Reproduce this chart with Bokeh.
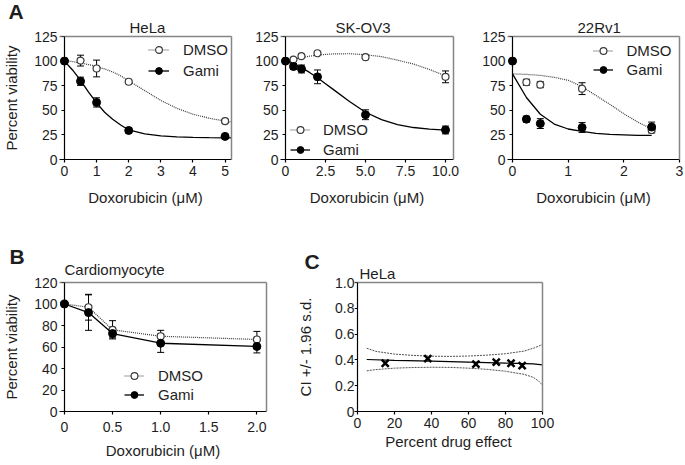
import math
from bokeh.plotting import figure
from bokeh.models import (ColumnDataSource, Whisker, TeeHead, Legend, LegendItem,
                          Title, FixedTicker, LinearAxis, Range1d)
from bokeh.layouts import column, row
from bokeh.embed import file_html
from bokeh.resources import INLINE

# ---------------- data ----------------
# Panel A - HeLa
hela_x = [0, 0.5, 1, 2, 5]
hela_dmso = [100, 100.5, 92.5, 79, 39]
hela_dmso_err = [0, 5.5, 8.5, 1.5, 1.5]
hela_gami = [100, 79.5, 58, 29.5, 23.5]
hela_gami_err = [0, 4.2, 4.7, 2.5, 0]
hela_fit_x = [0, 0.25, 0.5, 0.75, 1, 1.25, 1.5, 1.75, 2, 2.5, 3, 3.5, 4, 4.5, 5, 5.2]
hela_fit_dmso = [100.5, 99.5, 98, 96.5, 94.5, 92, 89, 85, 80, 70, 60, 52, 46, 42, 39, 38]
hela_fit_gami = [100, 91, 80.5, 68.5, 57.5, 48, 41, 35, 30, 26, 24, 23, 22.5, 22.2, 22, 22]

# Panel A - SK-OV3
sk_x = [0, 0.5, 1, 2, 5, 10]
sk_dmso = [100, 101.5, 105, 108, 104, 84]
sk_dmso_err = [0, 1, 2, 1, 1, 6]
sk_gami = [100, 94.5, 92, 84, 45.5, 30]
sk_gami_err = [0, 3, 4, 7, 5, 4]
sk_fit_x = [0, 0.5, 1, 1.5, 2, 2.5, 3, 4, 5, 6, 7, 8, 9, 10]
sk_fit_dmso = [100, 102, 103.5, 105, 106, 106.8, 107.3, 107.5, 106.5, 104.5, 101, 97, 91.5, 85]
sk_fit_gami = [100, 97, 93.5, 88.5, 83, 77, 71, 59, 48, 40.5, 35.5, 32.5, 30.8, 29.8]

# Panel A - 22Rv1
rv_x = [0, 0.25, 0.5, 1.25, 2.5]
rv_dmso = [100, 78.5, 76, 72, 30]
rv_dmso_err = [0, 3, 3, 6, 3]
rv_gami = [100, 41, 36.5, 32.5, 33]
rv_gami_err = [0, 3, 5, 5, 5]
rv_fit_x = [0, 0.25, 0.5, 0.75, 1, 1.25, 1.5, 1.75, 2, 2.25, 2.5]
rv_fit_dmso = [87, 86.5, 85.5, 83.5, 80.5, 74, 65, 56, 46.5, 38, 31]
rv_fit_gami = [87, 63, 46, 36, 31, 28.5, 26.5, 25.5, 25, 24.5, 24.5]

# Panel B - Cardiomyocyte
cm_x = [0, 0.25, 0.5, 1.0, 2.0]
cm_dmso = [100, 97, 76, 70, 67]
cm_dmso_err = [0, 12, 8.5, 5.5, 7.5]
cm_gami = [100, 92, 72.5, 63.5, 60.5]
cm_gami_err = [0, 16.5, 4, 8.5, 6]

# Panel C - HeLa combination index
ci_x = [15, 38, 64, 75, 83, 89]
ci_y = [0.374, 0.41, 0.367, 0.383, 0.374, 0.355]
ci_fit_x = [5, 20, 40, 60, 80, 95, 100]
ci_fit_y = [0.403, 0.397, 0.39, 0.383, 0.375, 0.369, 0.362]
ci_band_x = [5, 10, 20, 30, 40, 50, 60, 70, 80, 90, 95, 98, 100]
ci_upper = [0.49, 0.466, 0.445, 0.435, 0.429, 0.427, 0.43, 0.437, 0.448, 0.468, 0.49, 0.507, 0.52]
ci_lower = [0.315, 0.325, 0.336, 0.341, 0.343, 0.342, 0.336, 0.327, 0.312, 0.288, 0.265, 0.235, 0.205]

# tick labels
hela_xticks = [0, 1, 2, 3, 4, 5]
hela_xlabels = ["0", "1", "2", "3", "4", "5"]
sk_xticks = [0, 2.5, 5, 7.5, 10]
sk_xlabels = ["0", "2.5", "5.0", "7.5", "10.0"]
rv_xticks = [0, 1, 2, 3]
rv_xlabels = ["0", "1", "2", "3"]
a_yticks = [0, 25, 50, 75, 100, 125]
a_ylabels = ["0", "25", "50", "75", "100", "125"]
cm_xticks = [0, 0.5, 1.0, 1.5, 2.0]
cm_xlabels = ["0", "0.5", "1.0", "1.5", "2.0"]
cm_yticks = [0, 20, 40, 60, 80, 100, 120]
cm_ylabels = ["0", "20", "40", "60", "80", "100", "120"]
ci_xticks = [0, 20, 40, 60, 80, 100]
ci_xlabels = ["0", "20", "40", "60", "80", "100"]
ci_yticks = [0, 0.2, 0.4, 0.6, 0.8, 1.0]
ci_ylabels = ["0", "0.2", "0.4", "0.6", "0.8", "1.0"]

# ---------------- styling ----------------
FONT = "Liberation Sans"
TXT = "#1e1e1e"
FRAME_GRAY = "#858585"
DMSO_COL = "#3a3a3a"


def style_axis(ax, standoff, line=True, tick_out=3):
    ax.axis_line_color = "black" if line else None
    ax.axis_line_width = 1.2
    ax.major_tick_line_color = "black" if line else None
    ax.major_tick_line_width = 1.2
    ax.major_tick_in = 0
    ax.major_tick_out = tick_out
    ax.minor_tick_line_color = None
    ax.minor_tick_in = 0
    ax.minor_tick_out = 0
    ax.major_label_standoff = standoff
    ax.major_label_text_font = FONT
    ax.major_label_text_font_size = "14px"
    ax.major_label_text_color = TXT
    ax.axis_label_text_font = FONT
    ax.axis_label_text_font_size = "15px"
    ax.axis_label_text_font_style = "normal"
    ax.axis_label_text_color = TXT


def overrides(ticks, labels):
    return {float(t): l for t, l in zip(ticks, labels)}


def make_panel(x_end, y_end, xticks, xlabels, yticks, ylabels, w, h, bl, br, bt, bb,
               pad, xlab, xtick_standoff, xlab_standoff, ylab, ylab_standoff,
               letter, letter_offset, letter_standoff,
               name, name_offset, name_standoff):
    fw = w - bl - br
    x_start = -pad * x_end / (fw - pad)
    p = figure(width=w, height=h,
               min_border_left=bl, min_border_right=br, min_border_top=bt, min_border_bottom=bb,
               x_range=Range1d(x_start, x_end), y_range=Range1d(0, y_end),
               x_axis_location=None, y_axis_location=None,
               output_backend="svg", toolbar_location=None, title=letter)
    p.outline_line_color = None
    p.background_fill_color = "white"
    p.border_fill_color = "white"
    for g in p.grid:
        g.visible = False
    # panel letter (outermost title)
    p.title.text_font = FONT
    p.title.text_font_size = "21px"
    p.title.text_font_style = "bold"
    p.title.text_color = TXT
    p.title.align = "left"
    p.title.offset = letter_offset
    p.title.standoff = letter_standoff

    xa = LinearAxis(ticker=FixedTicker(ticks=xticks),
                    major_label_overrides=overrides(xticks, xlabels))
    style_axis(xa, xtick_standoff)
    xa.axis_label = xlab
    xa.axis_label_standoff = xlab_standoff
    p.add_layout(xa, "below")

    # black y-axis line and ticks at x = 0 (a little inside the frame)
    yline = LinearAxis(ticker=FixedTicker(ticks=yticks), fixed_location=0)
    style_axis(yline, 0)
    yline.major_label_text_color = None
    yline.major_label_text_alpha = 0
    p.add_layout(yline, "left")
    # tick labels and axis title at the frame edge
    ylab_axis = LinearAxis(ticker=FixedTicker(ticks=yticks),
                           major_label_overrides=overrides(yticks, ylabels))
    style_axis(ylab_axis, pad - 3, line=False, tick_out=0)
    if ylab:
        ylab_axis.axis_label = ylab
        ylab_axis.axis_label_standoff = ylab_standoff
    p.add_layout(ylab_axis, "left")

    for side in ("above", "right"):
        ax = LinearAxis(ticker=FixedTicker(ticks=[]), axis_line_color=FRAME_GRAY,
                        axis_line_width=1.5, major_tick_in=0, major_tick_out=0,
                        minor_tick_in=0, minor_tick_out=0, major_label_standoff=0,
                        major_label_text_color=None)
        p.add_layout(ax, side)

    # panel name
    p.add_layout(Title(text=name, align="left", offset=name_offset, standoff=name_standoff,
                       text_font=FONT, text_font_size="15px", text_font_style="normal",
                       text_color=TXT), "above")
    return p


def add_series(p, x, y, err, fx, fy, dmso):
    lo = [a - b for a, b in zip(y, err)]
    hi = [a + b for a, b in zip(y, err)]
    src = ColumnDataSource(dict(x=x, lo=lo, hi=hi))
    w = Whisker(source=src, base="x", lower="lo", upper="hi", dimension="height",
                line_color="black", line_width=1, level="underlay",
                upper_head=TeeHead(size=7, line_color="black", line_width=1),
                lower_head=TeeHead(size=7, line_color="black", line_width=1))
    p.add_layout(w)
    if dmso:
        ln = p.line(fx, fy, line_color=DMSO_COL, line_width=1.2, line_dash="1 1")
        pts = p.scatter(x, y, marker="circle", size=7, fill_color="white",
                        line_color=DMSO_COL, line_width=1.2)
    else:
        ln = p.line(fx, fy, line_color="black", line_width=1.3)
        pts = p.scatter(x, y, marker="circle", size=8, fill_color="black", line_color="black")
    return [ln, pts]


def add_legend(p, dmso_r, gami_r, loc, spacing, glyph_w, standoff):
    lg = Legend(items=[LegendItem(label="DMSO", renderers=dmso_r),
                       LegendItem(label="Gami", renderers=gami_r)],
                location=loc, orientation="vertical", padding=0, margin=0,
                spacing=spacing, glyph_width=glyph_w, glyph_height=17, label_height=17,
                label_standoff=standoff, label_text_font=FONT, label_text_font_size="15px",
                label_text_color=TXT, border_line_color=None, background_fill_alpha=0)
    p.add_layout(lg)


DOX = "Doxorubicin (\u03bcM)"

# ---- A: HeLa
f1 = make_panel(5.2, 125, hela_xticks, hela_xlabels, a_yticks, a_ylabels,
                240, 231, 58, 9, 36, 72, 5, DOX, 3, 10, "Percent viability", 11,
                "A", -51, -15, "HeLa", 70, 2)
d = add_series(f1, hela_x, hela_dmso, hela_dmso_err, hela_fit_x, hela_fit_dmso, True)
g = add_series(f1, hela_x, hela_gami, hela_gami_err, hela_fit_x, hela_fit_gami, False)
add_legend(f1, d, g, (89, 80.5), 4, 21, 14)

# ---- A: SK-OV3
f2 = make_panel(10.5, 125, sk_xticks, sk_xlabels, a_yticks, a_ylabels,
                220, 231, 40, 7, 36, 72, 5, DOX, 3, 10, None, 0,
                "", 0, 0, "SK-OV3", 55, 2)
d = add_series(f2, sk_x, sk_dmso, sk_dmso_err, sk_fit_x, sk_fit_dmso, True)
g = add_series(f2, sk_x, sk_gami, sk_gami_err, sk_fit_x, sk_fit_gami, False)
add_legend(f2, d, g, (10, 1), 3, 20, 13)

# ---- A: 22Rv1
f3 = make_panel(3, 125, rv_xticks, rv_xlabels, a_yticks, a_ylabels,
                225, 231, 47, 6, 36, 72, 5, DOX, 3, 10, None, 0,
                "", 0, 0, "22Rv1", 70, 2)
d = add_series(f3, rv_x, rv_dmso, rv_dmso_err, rv_fit_x, rv_fit_dmso, True)
g = add_series(f3, rv_x, rv_gami, rv_gami_err, rv_fit_x, rv_fit_gami, False)
add_legend(f3, d, g, (85.5, 81), 2, 20, 14)

# ---- B: Cardiomyocyte
f4 = make_panel(2.1, 120, cm_xticks, cm_xlabels, cm_yticks, cm_ylabels,
                294, 234, 57, 28, 51, 54, 5, DOX, 7, 7, "Percent viability", 11,
                "B", -50, -27, "Cardiomyocyte", 5, 9)
d = add_series(f4, cm_x, cm_dmso, cm_dmso_err, cm_x, cm_dmso, True)
g = add_series(f4, cm_x, cm_gami, cm_gami_err, cm_x, cm_gami, False)
add_legend(f4, d, g, (65, 8), 2, 20, 14)

# ---- C: combination index
f5 = make_panel(100, 1.0, ci_xticks, ci_xlabels, ci_yticks, ci_ylabels,
                391, 234, 59, 143, 34, 48, 3, "Percent drug effect", 3, 2,
                "CI +/- 1.96 s.d.", 18, "C", -50, -23, "HeLa", 5, 2)
f5.line(ci_band_x, ci_upper, line_color="#505050", line_width=1, line_dash="2 1")
f5.line(ci_band_x, ci_lower, line_color="#505050", line_width=1, line_dash="2 1")
f5.line(ci_fit_x, ci_fit_y, line_color="black", line_width=1.2)
f5.scatter(ci_x, ci_y, marker="x", size=10, line_color="black", line_width=2.5)

layout = column(row(f1, f2, f3), row(f4, f5))
open("out.html", "w").write(file_html(layout, INLINE))
